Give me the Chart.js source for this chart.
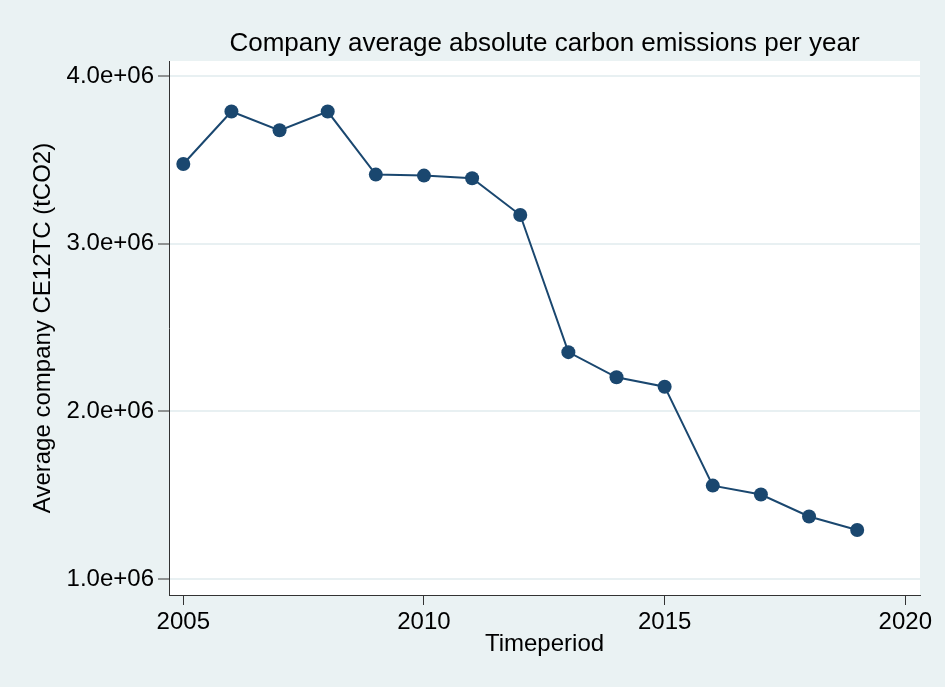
<!DOCTYPE html>
<html>
<head>
<meta charset="utf-8">
<title>Company average absolute carbon emissions per year</title>
<script src="https://cdn.jsdelivr.net/npm/chart.js@4"></script>
<style>
    body { margin: 0; background: #eaf2f3; }
    #wrap { width: 945px; height: 687px; }
</style>
</head>
<body>
<div id="wrap"><canvas id="lineChart" width="945" height="687"></canvas></div>
<script>
// data
const years = [2005, 2006, 2007, 2008, 2009, 2010, 2011, 2012, 2013, 2014, 2015, 2016, 2017, 2018, 2019];
const emissions = [3475000, 3788000, 3676000, 3788000, 3412000, 3406000, 3390000, 3171000,
    2353000, 2203000, 2147000, 1557000, 1504000, 1373000, 1292000];
const xTicks = [2005, 2010, 2015, 2020];
const yTicks = [1000000, 2000000, 3000000, 4000000];

const navy = "#1a476f";
const font = "'Liberation Sans', Arial, Helvetica, sans-serif";

// paint the outer background and the white plot region
const backgroundPlugin = {
    id: "stataBackground",
    beforeDraw(chart) {
        const { ctx, chartArea } = chart;
        ctx.save();
        ctx.fillStyle = "#eaf2f3";
        ctx.fillRect(0, 0, chart.width, chart.height);
        ctx.fillStyle = "#ffffff";
        ctx.fillRect(chartArea.left, chartArea.top, chartArea.right - chartArea.left, chartArea.bottom - chartArea.top);
        ctx.restore();
    },
};

// center the title over the plot region rather than the whole canvas
const titleCenterPlugin = {
    id: "titleCenter",
    afterLayout(chart) {
        const tb = chart.titleBlock;
        if (tb) {
            tb.left = chart.chartArea.left;
            tb.right = chart.chartArea.right;
            tb.width = tb.right - tb.left;
        }
    },
};

document.addEventListener("DOMContentLoaded", () => {
    const ctx = document.getElementById("lineChart").getContext("2d");
    new Chart(ctx, {
        type: "line",
        data: {
            datasets: [
                {
                    data: years.map((y, i) => ({ x: y, y: emissions[i] })),
                    borderColor: navy,
                    backgroundColor: navy,
                    borderWidth: 2,
                    pointRadius: 7,
                    pointHoverRadius: 7,
                    pointBorderWidth: 0,
                    tension: 0,
                },
            ],
        },
        options: {
            responsive: false,
            animation: false,
            layout: { padding: { left: 0, right: 25, top: 0, bottom: 0 } },
            plugins: {
                legend: { display: false },
                tooltip: { enabled: false },
                title: {
                    display: true,
                    text: "Company average absolute carbon emissions per year",
                    color: "#000",
                    font: { family: font, size: 26, weight: "normal", lineHeight: 1.2 },
                    padding: { top: 28, bottom: 1.8 },
                },
            },
            scales: {
                x: {
                    type: "linear",
                    min: 2004.703,
                    max: 2020.305,
                    afterBuildTicks: (scale) => { scale.ticks = xTicks.map((v) => ({ value: v })); },
                    afterFit: (scale) => { scale.height = 92; },
                    ticks: {
                        color: "#000",
                        font: { family: font, size: 24 },
                        padding: 3,
                        maxRotation: 0,
                        callback: (v) => String(v),
                    },
                    grid: {
                        drawOnChartArea: false,
                        drawTicks: true,
                        tickLength: 10,
                        tickColor: "#333",
                        tickWidth: 1,
                    },
                    border: { color: "#333", width: 1 },
                    title: {
                        display: true,
                        text: "Timeperiod",
                        color: "#000",
                        font: { family: font, size: 24, lineHeight: 1.2 },
                        padding: { top: 0, bottom: 28 },
                    },
                },
                y: {
                    min: 904600,
                    max: 4089400,
                    afterBuildTicks: (scale) => { scale.ticks = yTicks.map((v) => ({ value: v })); },
                    afterFit: (scale) => { scale.width = 169; },
                    ticks: {
                        color: "#000",
                        font: { family: font, size: 24 },
                        padding: 4,
                        callback: (v) => (v / 1e6).toFixed(1) + "e+06",
                    },
                    grid: {
                        color: "#e8f0f2",
                        lineWidth: 2,
                        tickLength: 11,
                        tickColor: "#333",
                        tickWidth: 1,
                    },
                    border: { color: "#333", width: 1 },
                    title: {
                        display: true,
                        text: "Average company CE12TC (tCO2)",
                        color: "#000",
                        font: { family: font, size: 24, lineHeight: 1.2 },
                        padding: { top: 29, bottom: 0 },
                    },
                },
            },
        },
        plugins: [backgroundPlugin, titleCenterPlugin],
    });
});
</script>
</body>
</html>
